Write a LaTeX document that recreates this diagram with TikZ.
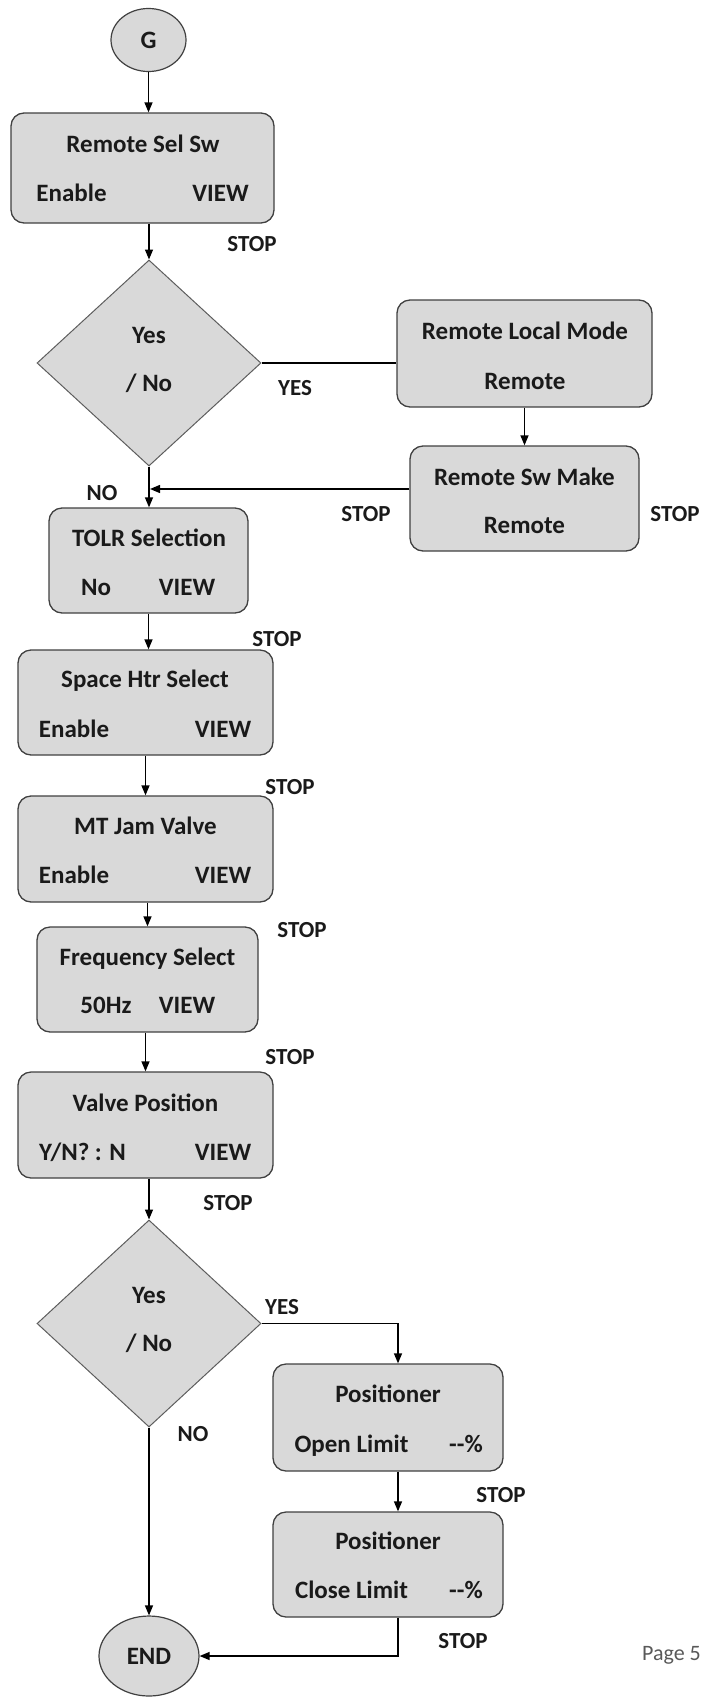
\documentclass[tikz,border=0pt]{standalone}
\usepackage{fontspec}
\setmainfont{Carlito}
\usetikzlibrary{shapes.geometric,arrows.meta}
\definecolor{boxfill}{HTML}{D9D9D9}
\definecolor{boxline}{HTML}{404040}
\definecolor{inkc}{HTML}{1A1A1A}
\definecolor{pagegray}{HTML}{595959}
\begin{document}
\begin{tikzpicture}[x=1pt,y=-1pt,
  procbox/.style={draw=boxline, line width=1.3pt, fill=boxfill, rounded corners=13pt, inner sep=0pt},
  decis/.style={diamond, draw=boxline!85, line width=1pt, fill=boxfill, inner sep=0pt,
                minimum width=224pt, minimum height=206pt},
  termin/.style={ellipse, draw=boxline, line width=1.2pt, fill=boxfill, inner sep=0pt,
                 font=\fontsize{25}{30}\selectfont\bfseries, text=inkc},
  txt/.style={font=\fontsize{25}{30}\selectfont\bfseries, text=inkc, inner sep=0pt, anchor=base},
  lbl/.style={font=\fontsize{23}{27}\selectfont\bfseries, text=inkc, inner sep=0pt, anchor=base},
  conn/.style={line width=1.3pt, draw=black},
  arr/.style={conn, -{Triangle[length=10pt,width=8pt]}}
]
\useasboundingbox (0,0) rectangle (704,1697);

% start terminal
\node[termin, minimum width=75pt, minimum height=63pt] (g) at (148.5,40) {G};

% Remote Sel Sw
\node[procbox, minimum width=263pt, minimum height=110pt] (rsel) at (142.5,168) {};
\node[txt] (rselA) at (143,152) {Remote Sel Sw};
\node[txt] (rselB) at (71.5,201) {Enable};
\node[txt] (rselC) at (220.5,201) {VIEW};

% first decision
\node[decis] (d1) at (149,363) {};
\node[txt] (d1A) at (149,343) {Yes};
\node[txt] (d1B) at (149,391) {/ No};

% Remote Local Mode
\node[procbox, minimum width=255pt, minimum height=107pt] (rlm) at (524.5,353.5) {};
\node[txt] (rlmA) at (525,339) {Remote Local Mode};
\node[txt] (rlmB) at (525,389) {Remote};

% Remote Sw Make
\node[procbox, minimum width=229pt, minimum height=105pt] (rsm) at (524.5,498.5) {};
\node[txt] (rsmA) at (524.5,485) {Remote Sw Make};
\node[txt] (rsmB) at (524.5,533) {Remote};

% TOLR Selection
\node[procbox, minimum width=199pt, minimum height=105pt] (tolr) at (148.5,560.5) {};
\node[txt] (tolrA) at (149,546) {TOLR Selection};
\node[txt] (tolrB) at (96,595) {No};
\node[txt] (tolrC) at (187,595) {VIEW};

% Space Htr Select
\node[procbox, minimum width=255pt, minimum height=105pt] (shs) at (145.5,702.5) {};
\node[txt] (shsA) at (145,687) {Space Htr Select};
\node[txt] (shsB) at (74,737) {Enable};
\node[txt] (shsC) at (223,737) {VIEW};

% MT Jam Valve
\node[procbox, minimum width=255pt, minimum height=106pt] (mtj) at (145.5,849) {};
\node[txt] (mtjA) at (145.5,834) {MT Jam Valve};
\node[txt] (mtjB) at (74,883) {Enable};
\node[txt] (mtjC) at (223,883) {VIEW};

% Frequency Select
\node[procbox, minimum width=221pt, minimum height=105pt] (frq) at (147.5,979.5) {};
\node[txt] (frqA) at (147.5,965) {Frequency Select};
\node[txt] (frqB) at (106,1013) {50Hz};
\node[txt] (frqC) at (187,1013) {VIEW};

% Valve Position
\node[procbox, minimum width=255pt, minimum height=106pt] (vlv) at (145.5,1125) {};
\node[txt] (vlvA) at (145.5,1111) {Valve Position};
\node[txt] (vlvB) at (82.5,1160) {Y/N? : N};
\node[txt] (vlvC) at (223,1160) {VIEW};

% second decision
\node[decis, minimum height=207pt] (d2) at (149,1323.5) {};
\node[txt] (d2A) at (149,1303) {Yes};
\node[txt] (d2B) at (149,1351) {/ No};

% Positioner boxes
\node[procbox, minimum width=230pt, minimum height=107pt] (pos1) at (388,1417.5) {};
\node[txt] (pos1A) at (388,1402) {Positioner};
\node[txt] (pos1B) at (351.5,1452) {Open Limit};
\node[txt] (pos1C) at (466,1452) {-{}-\%};

\node[procbox, minimum width=230pt, minimum height=105pt] (pos2) at (388,1564.5) {};
\node[txt] (pos2A) at (388,1549) {Positioner};
\node[txt] (pos2B) at (351.5,1598) {Close Limit};
\node[txt] (pos2C) at (466,1598) {-{}-\%};

% end terminal
\node[termin, minimum width=100pt, minimum height=80pt] (endn) at (149,1656) {END};

% connectors
\coordinate (j1) at (150,489);
\coordinate (c1) at (398,1323.5);
\draw[arr] (g.south) -- (g.south |- rsel.north);
\draw[arr] (d1.north |- rsel.south) -- (d1.north);
\draw[conn] (d1.east) -- (d1.east -| rlm.west);
\draw[arr] (rlm.south) -- (rlm.south |- rsm.north);
\draw[arr] (rsm.west |- j1) -- (j1);
\draw[arr] (d1.south) -- (d1.south |- tolr.north);
\draw[arr] (tolr.south) -- (tolr.south |- shs.north);
\draw[arr] (shs.south) -- (shs.south |- mtj.north);
\draw[arr] (frq.north |- mtj.south) -- (frq.north);
\draw[arr] (vlv.north |- frq.south) -- (vlv.north);
\draw[arr] (d2.north |- vlv.south) -- (d2.north);
\draw[arr] (d2.east) -- (c1) -- (c1 |- pos1.north);
\draw[arr] (c1 |- pos1.south) -- (c1 |- pos2.north);
\draw[arr] (c1 |- pos2.south) -- (c1 |- endn.east) -- (endn.east);
\draw[arr] (d2.south) -- (d2.south |- endn.north);

% branch labels
\node[lbl] (s1) at (252,251) {STOP};
\node[lbl] (y1) at (295,395) {YES};
\node[lbl] (n1) at (102,500) {NO};
\node[lbl] (s2) at (366,521) {STOP};
\node[lbl] (s3) at (675,521) {STOP};
\node[lbl] (s4) at (277,646) {STOP};
\node[lbl] (s5) at (290,794) {STOP};
\node[lbl] (s6) at (302,937) {STOP};
\node[lbl] (s7) at (290,1064) {STOP};
\node[lbl] (s8) at (228,1210) {STOP};
\node[lbl] (y2) at (282,1314) {YES};
\node[lbl] (n2) at (193,1441) {NO};
\node[lbl] (s9) at (501,1502) {STOP};
\node[lbl] (s10) at (463,1648) {STOP};

% page footer
\node[font=\fontsize{22}{26}\selectfont, text=pagegray, inner sep=0pt, anchor=base east] (pg) at (701,1660) {Page 5};
\end{tikzpicture}
\end{document}
